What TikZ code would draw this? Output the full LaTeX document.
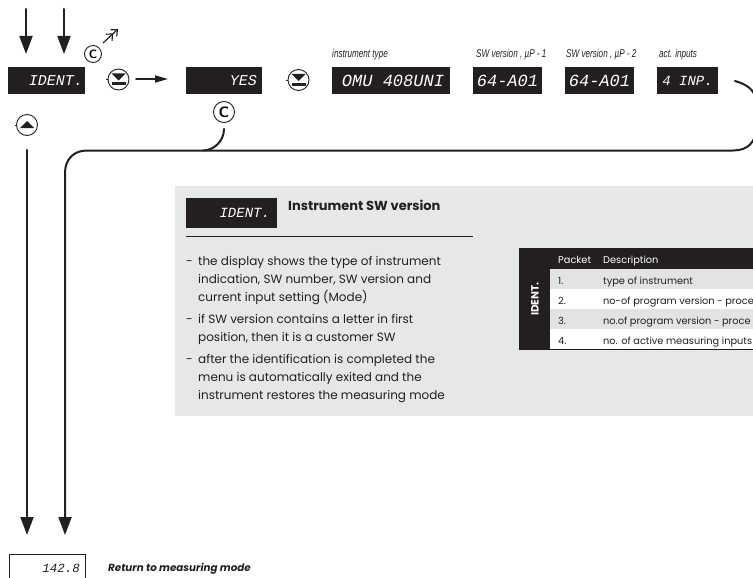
\documentclass[tikz,border=0pt]{standalone}
\usepackage{fontspec}
\usepackage{xcolor}
\usetikzlibrary{arrows.meta, positioning}
\setmainfont{Poppins}
\newfontfamily\dispfont{Liberation Mono}
\newfontfamily\capfont[FakeStretch=0.72]{Liberation Sans}
\definecolor{panelgray}{HTML}{E6E7E9}
\definecolor{rowgray}{HTML}{E2E3E5}
\definecolor{dispblack}{HTML}{231F20}
\tikzset{
  display/.style={fill=dispblack, text=white, minimum height=27pt, inner sep=0pt, outer sep=0pt, font=\dispfont\itshape\fontsize{15}{15}\selectfont},
  widedisplay/.style={display, font=\dispfont\itshape\fontsize{17}{17}\selectfont},
  flowline/.style={line width=2pt, draw=dispblack, line cap=round},
  bigarrow/.style={flowline, -{Triangle[width=13pt,length=18pt]}},
  keybtn/.style={circle, draw=dispblack, line width=0.9pt, minimum size=21pt, inner sep=0pt},
  ckey/.style={keybtn, font=\sffamily\bfseries\fontsize{15}{15}\selectfont},
  caption/.style={anchor=base west, inner sep=0pt, font=\capfont\itshape\fontsize{11.3}{11}\selectfont, text=dispblack},
  bodytext/.style={anchor=north west, inner sep=0pt, align=left, text=dispblack, font=\fontsize{12}{18.3}\selectfont},
  cell/.style={anchor=base west, inner sep=0pt, text=dispblack, font=\fontsize{9.8}{10}\selectfont},
}
\begin{document}
\begin{tikzpicture}[x=1pt, y=-1pt]
\clip (0,0) rectangle (753,578);
% Grey panel
\fill[panelgray] (175,186) rectangle (753,416);

% Top row of displays
\node[display, minimum width=77pt, anchor=west] (ident) at (8,80.5) {\makebox[73pt][r]{IDENT.}};
\node[display, minimum width=76pt, anchor=west] (yes) at (186,80.5) {\makebox[66pt][r]{YES}};
\node[widedisplay, minimum width=118pt, anchor=west] (omu) at (332,80.5) {\makebox[106pt][r]{OMU 408UNI}};
\node[widedisplay, minimum width=69pt, anchor=west] (swa) at (473,80.5) {64-A01};
\node[widedisplay, minimum width=69pt, anchor=west] (swb) at (565,80.5) {64-A01};
\node[display, minimum width=61pt, anchor=west, font=\dispfont\itshape\fontsize{14}{14}\selectfont] (inp) at (657,80.5) {4 INP.};

% Captions
\node[caption] (capomu) at (332,58) {instrument type};
\node[caption] (capswa) at (476,58) {SW version ,  µP - 1};
\node[caption] (capswb) at (566,58) {SW version ,  µP - 2};
\node[caption] (capinp) at (659,58) {act. inputs};

% Keys
\node[keybtn] (dnA) at (118.5,79.5) {};
\node[keybtn] (dnB) at (298.5,80) {};
\node[keybtn] (upA) at (27,125) {};
\node[ckey, minimum size=17pt, font=\sffamily\bfseries\fontsize{12}{12}\selectfont] (cA) at (93,54) {C};
\node[ckey] (cB) at (224,112) {C};
\foreach \k in {dnA,dnB} {
  \fill[dispblack] ([shift={(-7,-6)}]\k.center) -- ([shift={(7,-6)}]\k.center) -- ([shift={(0,1)}]\k.center) -- cycle;
  \fill[dispblack] ([shift={(-7,3)}]\k.center) rectangle ([shift={(7,6)}]\k.center);
}
\fill[dispblack] ([shift={(-7,3)}]upA.center) -- ([shift={(7,3)}]upA.center) -- ([shift={(0,-4)}]upA.center) -- cycle;
\foreach \k in {dnA,dnB,upA} {
  \draw[dispblack, line width=0.5pt] (\k.west) -- ++(-1.5,0);
}

% Arrows
\coordinate (inA) at (26,9);
\coordinate (inB) at (64,9);
\coordinate (tipA) at (26,54);
\coordinate (tipB) at (64,54);
\draw[bigarrow] (inA) -- (tipA);
\draw[bigarrow] (inB) -- (tipB);
\coordinate (nextS) at (136,79);
\coordinate (nextE) at (168,79);
\draw[flowline, line width=1.6pt, -{Triangle[width=7pt,length=13pt]}] (nextS) -- (nextE);
\coordinate (escS) at (103,43);
\coordinate (escE) at (118,29);
\draw[dispblack, line width=1.2pt, -{Straight Barb[length=5pt,width=9pt]Straight Barb[length=5pt,width=9pt]}] (escS) -- (escE);

% Return lines
\coordinate (backA) at (27,150);
\coordinate (endA) at (27,535);
\coordinate (endB) at (65,535);
\coordinate (outI) at (735,81);
\coordinate (joinC) at (203,150.5);
\draw[bigarrow] (backA) -- (endA);
\draw[bigarrow] (outI) .. controls (746,84) and (756,90) .. (756,102) -- (756,128)
  .. controls (756,142) and (748,150.5) .. (733,150.5) -- (87,150.5)
  .. controls (73,150.5) and (65,160) .. (65,173) -- (endB);
\draw[flowline] (cB.south) ++(0,6) .. controls +(0,12) and (214,150.5) .. (joinC);

% Panel heading
\node[display, minimum width=91pt, minimum height=30pt, anchor=north west, font=\dispfont\itshape\fontsize{14}{14}\selectfont] (identp) at (186,198) {\makebox[77pt][r]{IDENT.}};
\node[anchor=base west, inner sep=0pt, font=\bfseries\fontsize{13}{14}\selectfont, text=dispblack] (title) at (288,210) {Instrument SW version};
\coordinate (ruleS) at (186,236);
\coordinate (ruleE) at (473,236);
\draw[dispblack, line width=0.8pt] (ruleS) -- (ruleE);

% Panel text
\node[bodytext] (dashA) at (186,252) {\strut-};
\node[bodytext] (itemA) at (198,252) {\strut the display shows the type of instrument\\indication, SW number, SW version and\\current input setting (Mode)};
\node[bodytext] (dashB) at (186,310) {\strut-};
\node[bodytext] (itemB) at (198,310) {\strut if SW version contains a letter in first\\position, then it is a customer SW};
\node[bodytext] (dashC) at (186,350) {\strut-};
\node[bodytext] (itemC) at (198,350) {\strut after the identification is completed  the\\menu is automatically exited and the\\instrument restores the measuring mode};

% Packet table
\fill[dispblack] (519,248) rectangle (753,269);
\fill[dispblack] (519,269) rectangle (550,350);
\fill[rowgray] (550,269) rectangle (753,289);
\fill[white] (550,289) rectangle (753,309);
\fill[rowgray] (550,309) rectangle (753,329);
\fill[white] (550,329) rectangle (753,349);
\draw[dispblack, line width=0.5pt] (550,349.5) -- (753,349.5);
\node[cell, text=white] (hpacket) at (558,263) {Packet};
\node[cell, text=white] (hdesc) at (603,263) {Description};
\node[cell] (nA) at (558,284) {1.};
\node[cell] (dA) at (603,284) {type of instrument};
\node[cell] (nB) at (558,304) {2.};
\node[cell] (dB) at (603,304) {no-of program version - proce};
\node[cell] (nC) at (558,324) {3.};
\node[cell] (dC) at (603,324) {no.of program version - proce};
\node[cell] (nD) at (558,344) {4.};
\node[cell] (dD) at (603,344) {no. of active measuring inputs};
\node[rotate=90, inner sep=0pt, text=white, font=\bfseries\fontsize{10.5}{11}\selectfont] (rowname) at (535,299) {IDENT.};

% Measuring mode
\coordinate (boxA) at (9,578);
\coordinate (boxB) at (85,578);
\draw[dispblack, line width=0.6pt] (boxA) |- (85,554.5) -- (boxB);
\node[anchor=base east, inner sep=0pt, text=dispblack, font=\dispfont\itshape\fontsize{12.5}{13}\selectfont] (meas) at (80,572) {142.8};
\node[anchor=base west, inner sep=0pt, text=dispblack, font=\bfseries\itshape\fontsize{10.3}{11}\selectfont] (ret) at (108,571) {Return to measuring mode};
\end{tikzpicture}
\end{document}
